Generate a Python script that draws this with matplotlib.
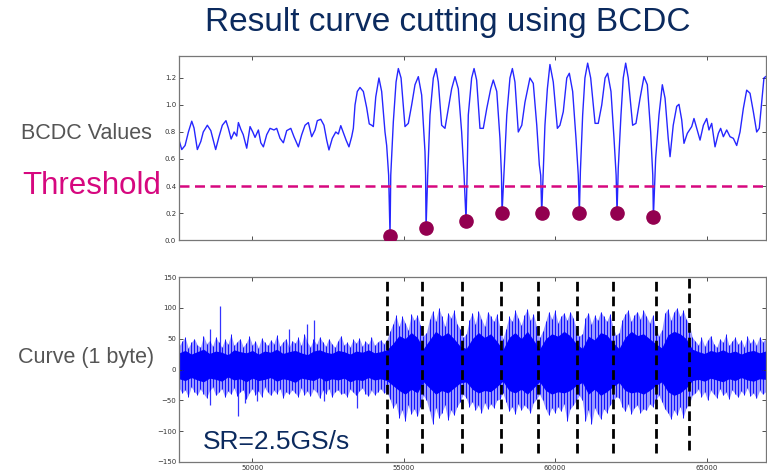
import numpy as np
import matplotlib
matplotlib.use("Agg")
import matplotlib.pyplot as plt

# BCDC values (sample index, value)
bcdc_x = [47580, 47670, 47780, 47890, 48000, 48075, 48185, 48300, 48380, 48515,
          48630, 48790, 48900, 49010, 49130, 49210, 49300, 49400, 49485, 49540,
          49620, 49700, 49815, 49925, 50015, 50090, 50200, 50280, 50365, 50475,
          50585, 50715, 50805, 50915, 51025, 51135, 51270, 51375, 51520, 51630,
          51740, 51850, 51960, 52070, 52145, 52260, 52365, 52455, 52530, 52640,
          52755, 52840, 52920, 53005, 53095, 53190, 53280, 53335, 53390, 53465,
          53555, 53665, 53775, 53860, 53940, 53995, 54075, 54180, 54270, 54380,
          54435, 54500, 54546, 54570, 54655, 54745, 54820, 54910, 55040, 55150,
          55260, 55370, 55480, 55590, 55700, 55720, 55735, 55790, 55865, 55975,
          56065, 56140, 56250, 56360, 56470, 56580, 56690, 56800, 56910, 56990,
          57055, 57090, 57130, 57240, 57320, 57405, 57515, 57625, 57740, 57870,
          57955, 58070, 58175, 58225, 58244, 58310, 58400, 58505, 58585, 58670,
          58780, 58895, 59000, 59165, 59275, 59390, 59475, 59520, 59554, 59600,
          59660, 59740, 59825, 59935, 60070, 60155, 60265, 60380, 60465, 60575,
          60685, 60760, 60796, 60830, 60905, 60980, 61070, 61170, 61315, 61420,
          61535, 61645, 61730, 61840, 61940, 62010, 62040, 62080, 62170, 62245,
          62325, 62410, 62555, 62665, 62800, 62930, 63040, 63150, 63220, 63240,
          63315, 63425, 63535, 63625, 63730, 63790, 63895, 64010, 64085, 64175,
          64250, 64360, 64505, 64580, 64670, 64780, 64890, 65000, 65075, 65165,
          65275, 65385, 65460, 65550, 65660, 65770, 65880, 65990, 66100, 66210,
          66320, 66430, 66540, 66650, 66735, 66815, 66890, 66945]
bcdc_y = [0.74, 0.67, 0.70, 0.80, 0.88, 0.83, 0.67, 0.73, 0.80, 0.85,
          0.81, 0.67, 0.765, 0.85, 0.884, 0.827, 0.748, 0.80, 0.77, 0.87,
          0.82, 0.78, 0.68, 0.84, 0.80, 0.76, 0.815, 0.72, 0.69, 0.78,
          0.827, 0.815, 0.827, 0.753, 0.72, 0.81, 0.827, 0.765, 0.69, 0.78,
          0.85, 0.87, 0.765, 0.815, 0.884, 0.894, 0.85, 0.74, 0.667, 0.753,
          0.80, 0.785, 0.847, 0.795, 0.74, 0.69, 0.765, 0.827, 1.0, 1.10,
          1.13, 1.10, 0.98, 0.86, 0.85, 0.84, 1.06, 1.20, 1.10, 0.80,
          0.70, 0.48, 0.03, 0.48, 0.876, 1.17, 1.27, 1.20, 0.84, 0.864,
          1.0, 1.15, 1.21, 1.074, 0.654, 0.48, 0.087, 0.48, 0.926, 1.20,
          1.27, 1.17, 0.85, 0.827, 0.975, 1.12, 1.21, 1.12, 0.80, 0.48,
          0.143, 0.48, 0.926, 1.20, 1.27, 1.185, 0.827, 0.827, 0.975, 1.12,
          1.185, 1.10, 0.753, 0.48, 0.198, 0.506, 0.926, 1.20, 1.27, 1.17,
          0.80, 0.85, 1.02, 1.20, 1.16, 0.85, 0.556, 0.48, 0.198, 0.48,
          0.85, 1.12, 1.30, 1.17, 0.827, 0.85, 0.95, 1.20, 1.235, 1.10,
          0.753, 0.48, 0.198, 0.506, 0.926, 1.20, 1.31, 1.20, 0.864, 0.864,
          1.0, 1.20, 1.235, 1.10, 0.753, 0.48, 0.198, 0.53, 0.926, 1.20,
          1.31, 1.20, 0.85, 0.864, 1.05, 1.21, 1.15, 0.80, 0.48, 0.168,
          0.605, 0.926, 1.15, 1.05, 0.753, 0.617, 0.85, 0.99, 1.005, 0.89,
          0.716, 0.79, 0.84, 0.90, 0.827, 0.74, 0.85, 0.90, 0.815, 0.864,
          0.69, 0.79, 0.827, 0.765, 0.815, 0.765, 0.753, 0.70, 0.80, 0.975,
          1.11, 1.087, 0.95, 0.80, 0.827, 1.02, 1.20, 1.21]

# detected minima below threshold
cut_idx = [54546, 55735, 57055, 58244, 59554, 60796, 62040, 63240]
cut_val = [0.03, 0.087, 0.143, 0.198, 0.198, 0.198, 0.198, 0.168]
threshold = 0.4

# resulting cut positions on the raw curve
split_x = [54437, 55612, 56933, 58201, 59432, 60720, 61918, 63338, 64417]

# raw curve: spike extents, 193 evenly spaced samples across the window
noise_hi = [38, 46, 52, 35, 44, 50, 40, 36, 55, 42,
            47, 38, 53, 44, 36, 49, 41, 57, 39, 45,
            50, 37, 43, 54, 40, 46, 35, 51, 44, 39,
            48, 42, 56, 38, 45, 50, 36, 47, 43, 52,
            39, 58, 44, 37, 49, 41, 53, 45, 38, 50,
            42, 36, 47, 55, 40, 44, 37, 49, 43, 51,
            38, 46, 41, 53, 39, 45, 48, 42,
            48, 62, 74, 88, 70, 86, 76, 64, 90, 80, 88, 72, 55,
            60, 82, 95, 78, 100, 86, 70, 92, 84, 96, 74, 66, 52,
            58, 80, 92, 74, 95, 82, 70, 94, 86, 78, 90, 68, 50,
            66, 86, 78, 96, 84, 72, 88, 98, 80, 90, 70, 52,
            62, 78, 94, 82, 96, 76, 86, 92, 80, 94, 84, 66, 54,
            58, 84, 92, 74, 88, 80, 94, 86, 78, 90, 70, 56,
            60, 80, 90, 96, 78, 88, 94, 82, 96, 86, 76, 88, 68, 55,
            64, 92, 98, 80, 94, 100, 86, 96, 82, 74, 52,
            46, 40, 52, 38, 48, 55, 42, 36, 50, 44, 57, 39,
            46, 52, 41, 48, 37, 54, 43, 49, 40, 53, 45, 50]
noise_lo = [-30, -38, -33, -44, -28, -36, -41, -32, -39, -46,
            -34, -29, -42, -37, -31, -45, -35, -40, -30, -43,
            -36, -33, -48, -38, -31, -41, -35, -44, -29, -37,
            -42, -34, -39, -31, -46, -36, -40, -33, -38, -44,
            -30, -41, -35, -43, -32, -37, -47, -34, -39, -31,
            -45, -36, -33, -40, -38, -44, -32, -37, -42, -35,
            -30, -39, -43, -34, -41, -36, -31, -38,
            -36, -48, -62, -55, -78, -66, -84, -58, -72, -64, -76, -60, -42,
            -50, -68, -88, -62, -78, -70, -58, -82, -66, -74, -60, -52, -40,
            -46, -60, -52, -66, -58, -70, -54, -64, -56, -62, -50, -48, -38,
            -52, -68, -60, -72, -56, -66, -58, -62, -70, -54, -48, -40,
            -50, -64, -74, -62, -70, -60, -68, -56, -84, -64, -58, -50, -42,
            -50, -84, -66, -88, -62, -72, -80, -64, -70, -58, -52, -44,
            -46, -60, -68, -56, -72, -62, -58, -70, -64, -66, -56, -60, -50, -42,
            -52, -64, -70, -80, -66, -74, -60, -78, -62, -56, -42,
            -38, -32, -44, -36, -50, -34, -40, -46, -31, -42, -37, -48,
            -33, -39, -45, -35, -41, -30, -43, -38, -47, -34, -40, -36]

# dense core of the raw curve, 97 evenly spaced samples
core_hi = [27, 31, 25, 29, 33, 26, 30, 28, 24, 32,
           29, 27, 31, 25, 30, 28, 33, 26, 29, 31,
           27, 24, 30, 32, 28, 26, 31, 29, 25, 30,
           28, 32, 27, 29,
           32, 42, 55, 50, 60, 52, 34,
           48, 62, 54, 60, 50, 38, 34,
           50, 60, 52, 58, 46, 32,
           52, 60, 50, 62, 48, 33,
           50, 58, 54, 62, 55, 42, 34,
           54, 48, 60, 56, 44, 34,
           52, 62, 55, 58, 50, 42, 35,
           56, 62, 58, 50, 33,
           29, 26, 31, 28, 32, 27, 30, 25, 29, 31, 27, 30]
core_lo = [-15, -18, -13, -17, -20, -14, -16, -19, -12, -17,
           -15, -20, -14, -18, -16, -13, -19, -15, -17, -21,
           -14, -16, -18, -13, -19, -15, -17, -14, -20, -16,
           -18, -13, -17, -15,
           -18, -26, -34, -40, -32, -38, -20,
           -30, -40, -34, -38, -30, -22, -20,
           -32, -38, -34, -36, -28, -19,
           -34, -38, -32, -40, -30, -20,
           -34, -40, -36, -38, -34, -26, -21,
           -40, -32, -42, -36, -28, -21,
           -34, -38, -36, -40, -34, -26, -20,
           -36, -42, -38, -30, -18,
           -16, -19, -14, -17, -20, -15, -18, -13, -17, -19, -15, -16]

# isolated tall spikes
tall_x = [48600, 48930, 51210, 51790, 52035, 48600, 49516, 49760, 50165, 52365, 53440]
tall_y = [65, 103, 66, 73, 81, -57, -76, -54, -51, -51, -62]

xlim = (47580, 66945)
blue = "#0000ff"
navy = "#0b2a5e"
pink = "#d6087f"
dot_color = "#930050"
sans = ["Liberation Sans", "DejaVu Sans"]

fig = plt.figure(figsize=(7.67, 4.72), dpi=100)
ax1 = fig.add_axes([0.2334, 0.4915, 0.7648, 0.3899])
ax2 = fig.add_axes([0.2334, 0.0212, 0.7648, 0.3919])

# BCDC panel
ax1.plot(bcdc_x, bcdc_y, color=blue, lw=1.0, alpha=0.85)
ax1.axhline(threshold, color=pink, lw=1.8, dashes=(4, 2.2), clip_on=False)
ax1.plot(cut_idx, cut_val, "o", color=dot_color, ms=9.5, mec=dot_color, zorder=5)
ax1.set_ylim(0, 1.363)
ax1.set_yticks([0.0, 0.2, 0.4, 0.6, 0.8, 1.0, 1.2])
ax1.set_yticklabels(["%.1f" % v for v in [0.0, 0.2, 0.4, 0.6, 0.8, 1.0, 1.2]])
ax1.set_xticklabels([])

# raw curve panel
noise_x = np.linspace(xlim[0], xlim[1], len(noise_hi))
core_x = np.linspace(xlim[0], xlim[1], len(core_hi))
ax2.fill_between(noise_x, noise_lo, noise_hi, color=blue, alpha=0.4, lw=0)
ax2.vlines(noise_x, noise_lo, noise_hi, color=blue, lw=0.7, alpha=0.9)
ax2.vlines(tall_x, 0, tall_y, color=blue, lw=0.9, alpha=0.8)
ax2.fill_between(core_x, core_lo, core_hi, color=blue, lw=0)
for i, sx in enumerate(split_x):
    lo, hi = (0.065, 1.016) if i == len(split_x) - 1 else (0.05, 1.0)
    ax2.axvline(sx, ymin=lo, ymax=hi, color="black", lw=2, dashes=(3.5, 1.8),
                clip_on=False, zorder=5)
ax2.set_ylim(-150, 150)
ax2.set_yticks([-150, -100, -50, 0, 50, 100, 150])

for ax in (ax1, ax2):
    ax.set_xlim(*xlim)
    ax.set_xticks([50000, 55000, 60000, 65000])
    ax.tick_params(direction="in", top=True, right=True, length=3, width=0.6,
                   labelsize=5, colors="#333333", pad=2)
    for s in ax.spines.values():
        s.set_color("#777777")
        s.set_linewidth(0.9)

fig.text(0.584, 0.953, "Result curve cutting using BCDC", color=navy,
         fontsize=24, family=sans, ha="center", va="center")
fig.text(0.028, 0.718, "BCDC Values", color="#555555", fontsize=15.5,
         family=sans, ha="left", va="center")
fig.text(0.029, 0.605, "Threshold", color=pink, fontsize=22.5,
         family=sans, ha="left", va="center")
fig.text(0.023, 0.242, "Curve (1 byte)", color="#555555", fontsize=15.5,
         family=sans, ha="left", va="center")
fig.text(0.265, 0.064, "SR=2.5GS/s", color=navy, fontsize=19,
         family=sans, ha="left", va="center")

fig.savefig("out.png", dpi=100)
